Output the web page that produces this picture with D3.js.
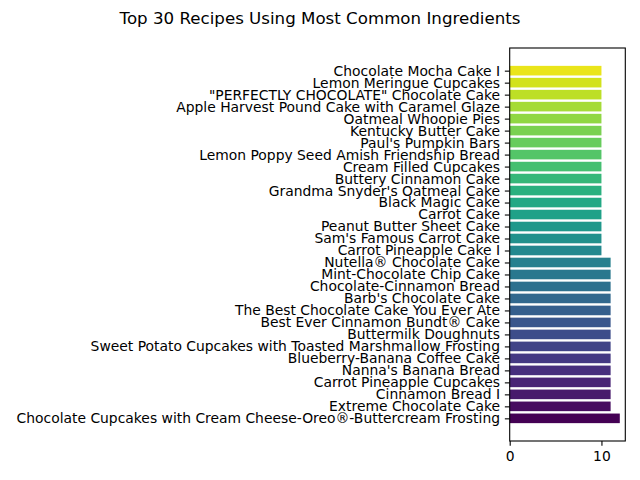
<!DOCTYPE html>
<html><head><meta charset="utf-8">
<script src="https://cdn.jsdelivr.net/npm/d3@7"></script>
<style>body{margin:0;background:#fff}svg{display:block}</style>
</head><body>
<svg id="c" width="640" height="480"></svg>
<script>
const title = "Top 30 Recipes Using Most Common Ingredients";
// bottom to top
const recipes = [
 "Chocolate Cupcakes with Cream Cheese-Oreo®-Buttercream Frosting",
 "Extreme Chocolate Cake",
 "Cinnamon Bread I",
 "Carrot Pineapple Cupcakes",
 "Nanna's Banana Bread",
 "Blueberry-Banana Coffee Cake",
 "Sweet Potato Cupcakes with Toasted Marshmallow Frosting",
 "Buttermilk Doughnuts",
 "Best Ever Cinnamon Bundt® Cake",
 "The Best Chocolate Cake You Ever Ate",
 "Barb's Chocolate Cake",
 "Chocolate-Cinnamon Bread",
 "Mint-Chocolate Chip Cake",
 "Nutella® Chocolate Cake",
 "Carrot Pineapple Cake I",
 "Sam's Famous Carrot Cake",
 "Peanut Butter Sheet Cake",
 "Carrot Cake",
 "Black Magic Cake",
 "Grandma Snyder's Oatmeal Cake",
 "Buttery Cinnamon Cake",
 "Cream Filled Cupcakes",
 "Lemon Poppy Seed Amish Friendship Bread",
 "Paul's Pumpkin Bars",
 "Kentucky Butter Cake",
 "Oatmeal Whoopie Pies",
 "Apple Harvest Pound Cake with Caramel Glaze",
 "\"PERFECTLY CHOCOLATE\" Chocolate Cake",
 "Lemon Meringue Cupcakes",
 "Chocolate Mocha Cake I"
];
const counts = [12,11,11,11,11,11,11,11,11,11,11,11,11,11,10,10,10,10,10,10,10,10,10,10,10,10,10,10,10,10];
const xTicks = [0,10];

const svg = d3.select("#c");
const font = "DejaVu Sans, sans-serif";
const L = 509.7, R = 625.3, T = 48, B = 441;
const n = recipes.length;
const xMax = d3.max(counts) * 1.05;
const x = d3.scaleLinear().domain([0, xMax]).range([L, R]);
const span = (n - 1) + 0.8;
const y = d3.scaleLinear().domain([-0.4 - 0.05 * span, n - 1 + 0.4 + 0.05 * span]).range([B, T]);
const bh = y(0) - y(0.8);

svg.append("text").attr("x", 320).attr("y", 24).attr("text-anchor", "middle")
  .attr("font-family", font).attr("font-size", 16.67).attr("fill", "#000").text(title);

svg.append("g").selectAll("rect").data(counts).join("rect")
  .attr("x", x(0)).attr("y", (d, i) => y(i + 0.4))
  .attr("width", d => x(d) - x(0)).attr("height", bh)
  .attr("fill", (d, i) => d3.interpolateViridis(i / n));

// y axis
const yAxis = d3.axisLeft(y).tickValues(d3.range(n)).tickFormat(i => recipes[i])
  .tickSize(4.86).tickPadding(4.86);
const gy = svg.append("g").attr("transform", `translate(${L},0)`).call(yAxis);
gy.select(".domain").remove();
gy.selectAll("text").attr("font-family", font).attr("font-size", 13.89).attr("fill", "#000");
gy.selectAll("line").attr("stroke", "#000").attr("stroke-width", 1.1);

const xAxis = d3.axisBottom(x).tickValues(xTicks).tickFormat(d3.format("d"))
  .tickSize(4.86).tickPadding(4.86);
const gx = svg.append("g").attr("transform", `translate(0,${B})`).call(xAxis);
gx.select(".domain").remove();
gx.selectAll("text").attr("font-family", font).attr("font-size", 13.89).attr("fill", "#000");
gx.selectAll("line").attr("stroke", "#000").attr("stroke-width", 1.1);

svg.append("rect").attr("x", L).attr("y", T).attr("width", R - L).attr("height", B - T)
  .attr("fill", "none").attr("stroke", "#000").attr("stroke-width", 1.1);
</script>
</body></html>
